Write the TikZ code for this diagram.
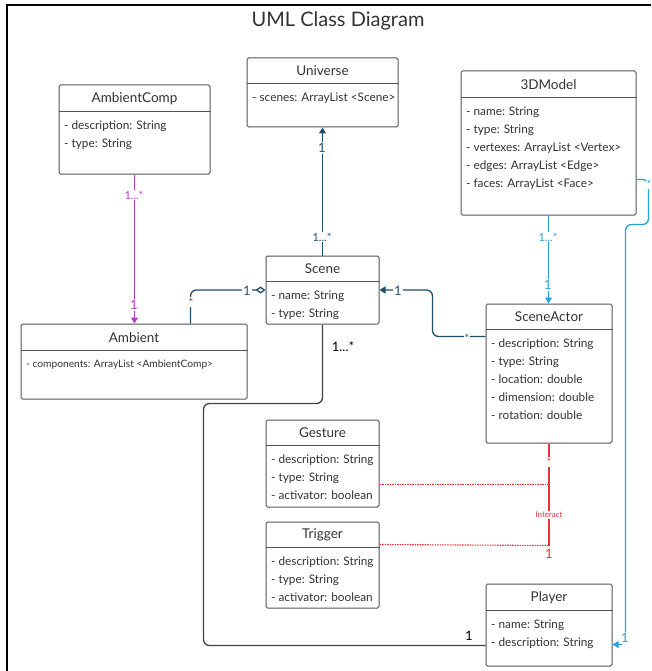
\documentclass[tikz,border=0pt]{standalone}
\usepackage{fontspec}
\setmainfont{Lato}
\usetikzlibrary{arrows.meta,calc}
\definecolor{dblue}{HTML}{1F4D6B}
\definecolor{purp}{HTML}{B43CC8}
\definecolor{lblue}{HTML}{28A0DC}
\definecolor{ired}{HTML}{E6323C}
\definecolor{boxgray}{HTML}{555555}
\definecolor{txt}{HTML}{333333}
\tikzset{
  classbox/.style={draw=boxgray, line width=1pt, fill=white, rounded corners=1.5pt, inner sep=0pt},
  classline/.style={draw=boxgray, line width=1pt},
  classtitle/.style={text=txt, font=\fontsize{13.5}{15}\selectfont, inner sep=0pt},
  classattr/.style={anchor=north west, align=left, inner sep=0pt, text=txt, font=\fontsize{11.8}{18}\selectfont},
  lab/.style={fill=white, inner sep=1pt, font=\fontsize{13}{14}\selectfont},
  labsm/.style={fill=white, inner sep=1pt, font=\fontsize{11}{12}\selectfont},
  conn/.style={line width=1.3pt, rounded corners=6pt},
  tip/.style={-{Triangle[width=7pt,length=6pt]}},
}
\newcommand{\umlclass}[8]{%
  \node[classbox, minimum width={(#4-#2)*1pt}, minimum height={(#5-#3)*1pt}] (#1) at ({(#2+#4)/2},{(#3+#5)/2}) {};
  \draw[classline] ($(#1.north west)+(0,#6-#3)$) -- ($(#1.north east)+(0,#6-#3)$);
  \node[classtitle] (#1-title) at ({(#2+#4)/2},{(#3+#6)/2}) {#7};
  \node[classattr] (#1-attrs) at ({#2+5},{#6+8.5}) {#8};
}
\begin{document}
\begin{tikzpicture}[x=1pt,y=-1pt]
\useasboundingbox (0,0) rectangle (651,671);
\fill[white] (0,0) rectangle (651,671);
% frame
\draw[line width=2pt, black] (7,671) -- (7,5) -- (651,5);
\node[text=txt, font=\fontsize{20}{22}\selectfont, inner sep=0pt] (title) at (338,21) {UML Class Diagram};

% classes
\umlclass{universe}{247}{58}{398}{127}{84}{Universe}{- scenes: ArrayList <Scene>}
\umlclass{ambientcomp}{59}{85}{210}{174}{112}{AmbientComp}{- description: String\\- type: String}
\umlclass{model}{461}{71}{636}{215}{98}{3DModel}{- name: String\\- type: String\\- vertexes: ArrayList <Vertex>\\- edges: ArrayList <Edge>\\- faces: ArrayList <Face>}
\umlclass{scene}{266}{256}{379}{324}{282}{Scene}{- name: String\\- type: String}
\umlclass{ambient}{21}{324}{247}{399}{351}{Ambient}{{\fontsize{10.2}{18}\selectfont - components: ArrayList <AmbientComp>}}
\umlclass{actor}{486}{304}{612}{443}{330}{SceneActor}{- description: String\\- type: String\\- location: double\\- dimension: double\\- rotation: double}
\umlclass{gesture}{266}{420}{379}{507}{446}{Gesture}{- description: String\\- type: String\\- activator: boolean}
\umlclass{trigger}{266}{522}{379}{608}{548}{Trigger}{- description: String\\- type: String\\- activator: boolean}
\umlclass{player}{486}{584}{612}{666}{611}{Player}{- name: String\\- description: String}

% Scene -> Universe
\draw[conn, dblue, tip] (scene.north) -- (universe.south);
\node[lab, text=dblue] (l1) at (322,148) {1};
\node[labsm, text=dblue] (l2) at (322,237) {1...*};

% AmbientComp -> Ambient
\draw[conn, purp, tip] (ambientcomp.south) -- (ambient.north -| ambientcomp.south);
\node[labsm, text=purp] (l3) at (134,195) {1...*};
\node[lab, text=purp] (l4) at (134,305) {1};

% Ambient -- Scene aggregation
\draw[conn, dblue, {Diamond[open,width=7pt,length=10pt]}-] (scene.west) -| ($(ambient.north west)+(170,0)$);
\node[lab, text=dblue] (l5) at (247,291) {1};
\node[labsm, text=dblue] (l6) at (191,302) {*};

% SceneActor -> Scene
\draw[conn, dblue, tip] ($(actor.north west)+(0,33)$) -- ++(-53,0) |- (scene.east);
\node[lab, text=dblue] (l7) at (398,291) {1};
\node[labsm, text=dblue] (l8) at (467,338) {*};

% 3DModel -> SceneActor
\draw[conn, lblue, tip] (model.south) -- (actor.north -| model.south);
\node[labsm, text=lblue] (l9) at (548,237) {1...*};
\node[lab, text=lblue] (l10) at (548,285) {1};

% 3DModel -> Player
\draw[conn, lblue, tip] ($(model.north east)+(0,109)$) -- ++(12,0) -- ++(0,45) -- ++(-23,0) |- ($(player.north east)+(0,61)$);
\node[labsm, text=lblue] (l11) at (649,184) {*};
\node[lab, text=lblue] (l12) at (625,638) {1};

% Scene -- Player
\draw[conn, boxgray!80!black] (scene.south) -- ++(0,79) -- ++(-119,0) |- ($(player.north west)+(0,62)$);
\node[lab, fill=none, text=black] (l13) at (343,347) {1...*};
\node[lab, fill=none, text=black] (l14) at (469,636) {1};

% Interact
\draw[line width=1.1pt, ired] (actor.south) -- ++(0,102) coordinate (iend);
\draw[line width=1.1pt, ired, dash pattern=on 1.6pt off 0.9pt] ($(gesture.north east)+(0,65)$) -- (iend |- {$(gesture.north east)+(0,65)$});
\draw[line width=1.1pt, ired, dash pattern=on 1.6pt off 0.9pt] ($(trigger.north east)+(0,23)$) -- (iend);
\node[labsm, text=ired] (l15) at (549,462) {*};
\node[fill=white, inner sep=1pt, text=ired, font=\fontsize{8}{9}\selectfont] (l16) at (549,515) {Interact};
\node[lab, text=ired, fill=none] (l17) at (549,554) {1};
\end{tikzpicture}
\end{document}
